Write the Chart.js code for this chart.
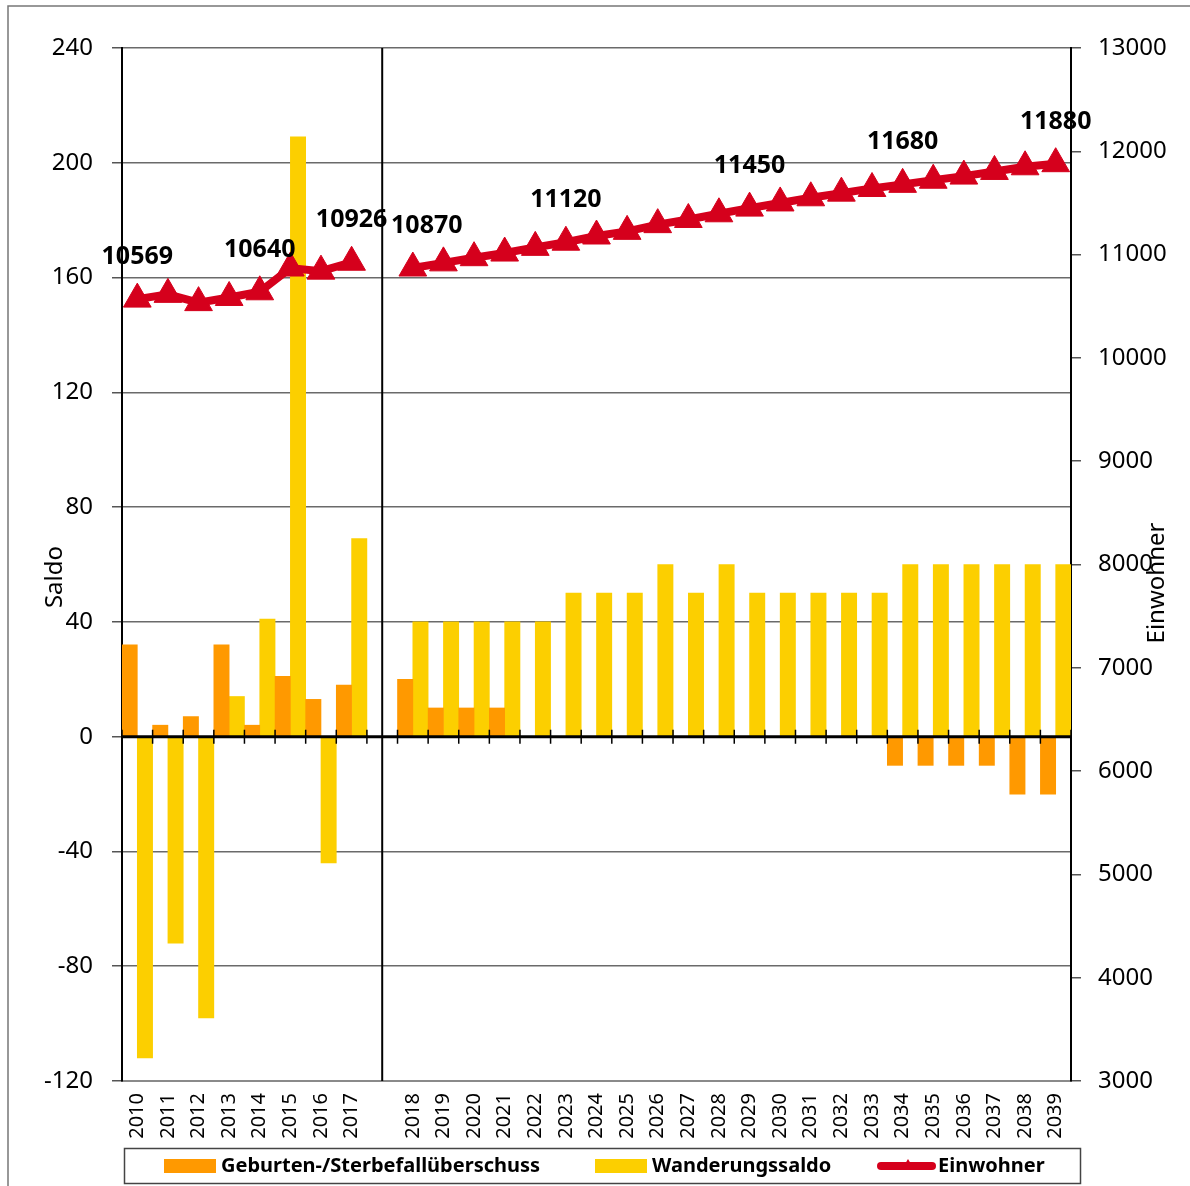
<!DOCTYPE html>
<html>
<head>
<meta charset="utf-8">
<script src="https://cdn.jsdelivr.net/npm/chart.js@4.4.1/dist/chart.umd.min.js"></script>
<style>
  html, body { margin: 0; padding: 0; background: #fff; }
  #wrap { width: 1190px; height: 1186px; }
</style>
</head>
<body>
<div id="wrap"><canvas id="myChart" width="1190" height="1186"></canvas></div>
<script>
// Kategorien: 2010-2017, Lücke, 2018-2039
var jahre = ['2010', '2011', '2012', '2013', '2014', '2015', '2016', '2017', '',
    '2018', '2019', '2020', '2021', '2022', '2023', '2024', '2025', '2026', '2027', '2028',
    '2029', '2030', '2031', '2032', '2033', '2034', '2035', '2036', '2037', '2038', '2039'];

var geburten = [32, 4, 7, 32, 4, 21, 13, 18, null,
    20, 10, 10, 10, 0, 0, 0, 0, 0, 0, 0,
    0, 0, 0, 0, 0, -10, -10, -10, -10, -20, -20];

var wanderung = [-112, -72, -98, 14, 41, 209, -44, 69, null,
    40, 40, 40, 40, 40, 50, 50, 50, 60, 50, 60,
    50, 50, 50, 50, 50, 60, 60, 60, 60, 60, 60];

var einwohner = [10569, 10615, 10535, 10585, 10640, 10870, 10840, 10926, null,
    10870, 10920, 10970, 11015, 11070, 11120, 11180, 11225, 11290, 11340, 11395,
    11450, 11500, 11550, 11595, 11640, 11680, 11720, 11760, 11805, 11850, 11880];

// Punkte mit Beschriftung
var beschriftet = [0, 4, 7, 9, 14, 20, 25, 30];

var saldoTicks = [-120, -80, -40, 0, 40, 80, 120, 160, 200, 240];
var einwohnerTicks = [3000, 4000, 5000, 6000, 7000, 8000, 9000, 10000, 11000, 12000, 13000];

var ORANGE = '#FF9900';
var GELB = '#FCCF00';
var ROT = '#D5001C';
var SCHRIFT = '"Noto Sans", "Open Sans", sans-serif';

var zusatz = {
    id: 'zusatz',
    beforeDatasetsDraw: function(chart) {
        var ctx = chart.ctx, area = chart.chartArea;
        var x = chart.scales.x.getPixelForValue(8);
        ctx.save();
        ctx.strokeStyle = '#000';
        ctx.lineWidth = 2;
        ctx.beginPath();
        ctx.moveTo(x, area.top);
        ctx.lineTo(x, area.bottom);
        ctx.stroke();
        ctx.restore();
    },
    afterDatasetsDraw: function(chart) {
        var ctx = chart.ctx, area = chart.chartArea;
        var y0 = chart.scales.y.getPixelForValue(0);
        ctx.save();
        // Nulllinie
        ctx.strokeStyle = '#000';
        ctx.lineWidth = 3;
        ctx.beginPath();
        ctx.moveTo(area.left, y0);
        ctx.lineTo(area.right, y0);
        ctx.stroke();
        // Teilstriche an den Kategoriegrenzen
        var breite = (area.right - area.left) / jahre.length;
        ctx.lineWidth = 1.5;
        ctx.beginPath();
        for (var i = 0; i <= jahre.length; i++) {
            var bx = area.left + i * breite;
            ctx.moveTo(bx, y0 - 7);
            ctx.lineTo(bx, y0 + 7);
        }
        ctx.stroke();

        // Einwohnerwerte
        var meta = chart.getDatasetMeta(2);
        ctx.fillStyle = '#000';
        ctx.font = 'bold 25px ' + SCHRIFT;
        ctx.textAlign = 'center';
        ctx.textBaseline = 'middle';
        beschriftet.forEach(function(i) {
            var p = meta.data[i];
            var dx = (i === 9) ? 14 : 0;
            ctx.fillText(String(einwohner[i]), p.x + dx, p.y - 42);
        });
        ctx.restore();
    },
    afterDraw: function(chart) {
        var ctx = chart.ctx;
        ctx.save();
        // Rahmen links/oben
        ctx.strokeStyle = '#777';
        ctx.lineWidth = 1.5;
        ctx.beginPath();
        ctx.moveTo(8, 1186);
        ctx.lineTo(8, 6);
        ctx.lineTo(1190, 6);
        ctx.stroke();

        // Achsentitel
        ctx.fillStyle = '#000';
        ctx.font = '24px ' + SCHRIFT;
        ctx.textAlign = 'center';
        ctx.textBaseline = 'middle';
        ctx.save();
        ctx.translate(55, 577);
        ctx.rotate(-Math.PI / 2);
        ctx.fillText('Saldo', 0, 0);
        ctx.restore();
        ctx.save();
        ctx.translate(1157, 583);
        ctx.rotate(-Math.PI / 2);
        ctx.fillText('Einwohner', 0, 0);
        ctx.restore();

        // Legende
        ctx.strokeStyle = '#444';
        ctx.lineWidth = 1.5;
        ctx.strokeRect(124.5, 1148.5, 956, 35);
        ctx.font = 'bold 20px ' + SCHRIFT;
        ctx.textAlign = 'left';
        var ly = 1166;
        ctx.fillStyle = ORANGE;
        ctx.fillRect(164, 1159, 52, 14);
        ctx.fillStyle = GELB;
        ctx.fillRect(595, 1159, 52, 14);
        ctx.strokeStyle = ROT;
        ctx.lineWidth = 8;
        ctx.lineCap = 'round';
        ctx.beginPath();
        ctx.moveTo(881, ly);
        ctx.lineTo(932, ly);
        ctx.stroke();
        ctx.fillStyle = ROT;
        ctx.beginPath();
        ctx.moveTo(908, ly - 7);
        ctx.lineTo(914, ly + 3);
        ctx.lineTo(902, ly + 3);
        ctx.closePath();
        ctx.fill();
        ctx.fillStyle = '#000';
        ctx.fillText('Geburten-/Sterbefallüberschuss', 221, ly, 336);
        ctx.fillText('Wanderungssaldo', 652, ly, 190);
        ctx.fillText('Einwohner', 938, ly, 112);
        ctx.restore();
    }
};

var ctx = document.getElementById('myChart').getContext('2d');
var myChart = new Chart(ctx, {
    data: {
        labels: jahre,
        datasets: [{
            type: 'bar',
            label: 'Geburten-/Sterbefallüberschuss',
            data: geburten,
            backgroundColor: ORANGE,
            yAxisID: 'y',
            order: 1
        }, {
            type: 'bar',
            label: 'Wanderungssaldo',
            data: wanderung,
            backgroundColor: GELB,
            yAxisID: 'y',
            order: 1
        }, {
            type: 'line',
            label: 'Einwohner',
            data: einwohner,
            borderColor: ROT,
            backgroundColor: ROT,
            borderWidth: 8,
            pointStyle: 'triangle',
            pointRadius: 16,
            pointHoverRadius: 16,
            pointBackgroundColor: ROT,
            pointBorderColor: ROT,
            pointBorderWidth: 1,
            spanGaps: false,
            tension: 0,
            yAxisID: 'y2',
            order: 0
        }]
    },
    options: {
        responsive: false,
        animation: false,
        events: [],
        layout: { padding: { top: 48, left: 0, right: 0, bottom: 0 } },
        datasets: {
            bar: { categoryPercentage: 1.0, barPercentage: 1.0 }
        },
        plugins: {
            legend: { display: false },
            tooltip: { enabled: false }
        },
        scales: {
            x: {
                offset: true,
                grid: { display: false, drawTicks: false },
                border: { color: '#8a8a8a', width: 2 },
                ticks: {
                    minRotation: 90,
                    maxRotation: 90,
                    autoSkip: false,
                    padding: 12,
                    color: '#000',
                    font: { family: SCHRIFT, size: 20 }
                },
                afterFit: function(scale) { scale.height = 105; }
            },
            y: {
                position: 'left',
                min: -120,
                max: 240,
                afterBuildTicks: function(scale) {
                    scale.ticks = saldoTicks.map(function(v) { return { value: v }; });
                },
                grid: { color: '#6a6a6a', lineWidth: 1.5, tickLength: 10, tickColor: '#555' },
                border: { color: '#000', width: 2 },
                ticks: {
                    padding: 19,
                    color: '#000',
                    font: { family: SCHRIFT, size: 24 },
                    callback: function(v) { return String(v); }
                },
                afterFit: function(scale) { scale.width = 122; }
            },
            y2: {
                position: 'right',
                min: 3000,
                max: 13000,
                afterBuildTicks: function(scale) {
                    scale.ticks = einwohnerTicks.map(function(v) { return { value: v }; });
                },
                grid: { drawOnChartArea: false, tickLength: 10, tickColor: '#555', lineWidth: 1.5 },
                border: { color: '#000', width: 2 },
                ticks: {
                    padding: 17,
                    color: '#000',
                    font: { family: SCHRIFT, size: 24 },
                    callback: function(v) { return String(v); }
                },
                afterFit: function(scale) { scale.width = 119; }
            }
        }
    },
    plugins: [zusatz]
});
</script>
</body>
</html>
